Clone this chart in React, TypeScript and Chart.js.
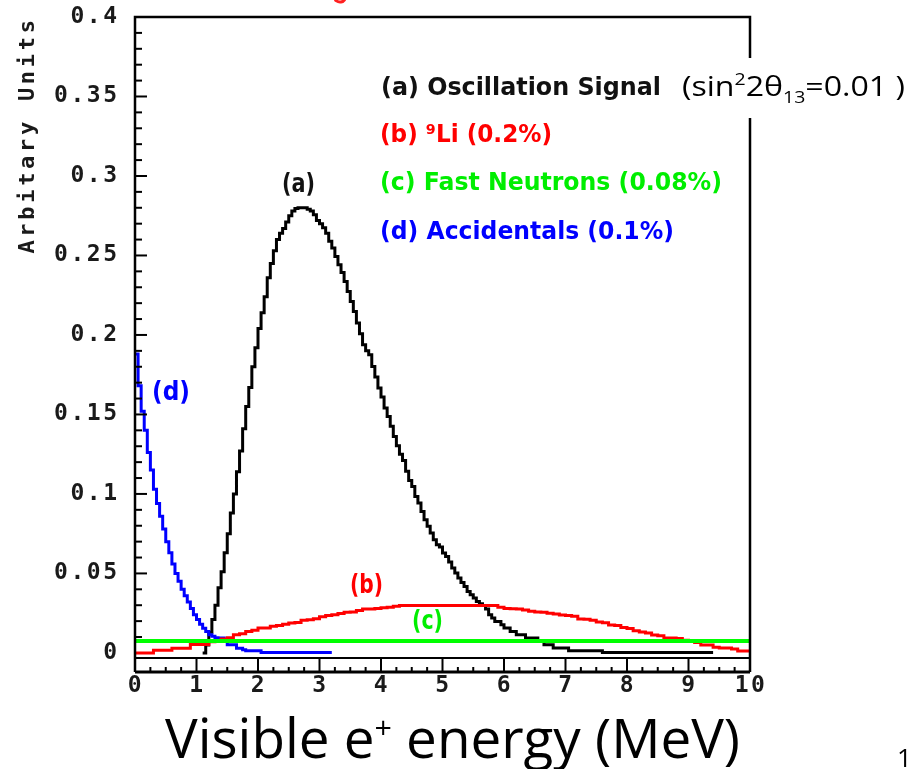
import React, { useEffect, useRef } from 'react';
import { Chart, registerables } from 'chart.js';

Chart.register(...registerables);

// ---- Data (Arbitrary Units vs visible e+ energy, MeV) ----
// (a) Oscillation signal: histogram, 0.05 MeV bins starting at 1.10 MeV
const SIGNAL_START = 1.1;
const SIGNAL_BIN = 0.05;
const SIGNAL_VALUES = [
  0, 0.005, 0.013, 0.021, 0.03, 0.041, 0.051, 0.063, 0.075, 0.088,
  0.1, 0.114, 0.127, 0.141, 0.155, 0.167, 0.18, 0.192, 0.204, 0.214,
  0.224, 0.236, 0.245, 0.253, 0.26, 0.264, 0.267, 0.271, 0.275, 0.278,
  0.2795, 0.28, 0.28, 0.28, 0.279, 0.278, 0.2756, 0.272, 0.27, 0.2675,
  0.264, 0.259, 0.2547, 0.2494, 0.2442, 0.2393, 0.2337, 0.2274, 0.2211, 0.2148,
  0.2075, 0.2008, 0.1938, 0.19, 0.1875, 0.1802, 0.1735, 0.1666, 0.161, 0.154,
  0.1487, 0.1425, 0.1362, 0.1303, 0.125, 0.121, 0.1142, 0.1085, 0.1047, 0.0984,
  0.0943, 0.089, 0.0838, 0.0796, 0.0754, 0.0712, 0.068, 0.0666, 0.0628, 0.0607,
  0.0572, 0.0534, 0.0503, 0.0471, 0.0443, 0.0418, 0.0387, 0.0366, 0.0345, 0.0324,
  0.031, 0.0299, 0.0276, 0.024, 0.0219, 0.0198, 0.0198, 0.0177, 0.0157, 0.0157,
  0.0135, 0.0135, 0.0114, 0.0114, 0.0114, 0.0094, 0.0094, 0.0094, 0.0094, 0.0075,
  0.0075, 0.0052, 0.0052, 0.0052, 0.0031, 0.0031, 0.0031, 0.0031, 0.0031, 0.0014,
  0.0014, 0.0014, 0.0014, 0.0014, 0.0014, 0.0014, 0.0014, 0.0014, 0.0014, 0.0014,
  0.0003, 0.0003, 0.0003, 0.0003, 0.0003, 0.0003, 0.0003, 0.0003, 0.0003, 0.0003,
  0.0003, 0.0003, 0.0003, 0.0003, 0.0003, 0.0003, 0.0003, 0.0003, 0.0003, 0.0003,
  0.0003, 0.0003, 0.0003, 0.0003, 0.0003, 0.0003, 0.0003, 0.0003, 0.0003, 0.0003,
  0.0003, 0.0003, 0.0003, 0.0003, 0.0003, 0.0003,
];

// (b) 9Li: histogram, 0.1 MeV bins from 0 MeV
const LI9_START = 0;
const LI9_BIN = 0.1;
const LI9_VALUES = [
  0, 0, 0, 0.0016, 0.0016, 0.0016, 0.003, 0.003, 0.003, 0.0053,
  0.0053, 0.0053, 0.007, 0.0078, 0.0088, 0.0096, 0.0114, 0.012, 0.0135, 0.0142,
  0.0157, 0.0157, 0.0167, 0.0172, 0.018, 0.0188, 0.0192, 0.0205, 0.0209, 0.0215,
  0.0228, 0.0236, 0.024, 0.0248, 0.0255, 0.0258, 0.0266, 0.0276, 0.0276, 0.028,
  0.0284, 0.0288, 0.0294, 0.0298, 0.0298, 0.0298, 0.0298, 0.0298, 0.0298, 0.0298,
  0.0298, 0.0298, 0.0298, 0.0298, 0.0298, 0.0298, 0.0298, 0.0298, 0.0298, 0.0287,
  0.028, 0.0278, 0.0276, 0.027, 0.0262, 0.0257, 0.0255, 0.025, 0.0244, 0.0238,
  0.0236, 0.023, 0.0213, 0.0211, 0.0205, 0.0194, 0.019, 0.0176, 0.0172, 0.016,
  0.0154, 0.014, 0.0131, 0.0125, 0.0113, 0.0108, 0.0094, 0.0094, 0.009, 0.008,
  0.0074, 0.0066, 0.005, 0.005, 0.0035, 0.0031, 0.0031, 0.0025, 0.0012, 0.0012,
];

// (c) Fast neutrons: flat, one bin over 0-10 MeV
const FASTN_START = 0;
const FASTN_BIN = 10;
const FASTN_VALUES = [0.0075];

// (d) Accidentals: histogram, 0.05 MeV bins from 0 to 3.2 MeV
const ACC_START = 0;
const ACC_BIN = 0.05;
const ACC_VALUES = [
  0.188, 0.168, 0.152, 0.14, 0.126, 0.115, 0.103, 0.094, 0.086, 0.078,
  0.07, 0.063, 0.056, 0.05, 0.045, 0.04, 0.036, 0.032, 0.028, 0.024,
  0.021, 0.018, 0.0155, 0.0135, 0.0115, 0.0105, 0.0096, 0.0094, 0.0094, 0.0075,
  0.0052, 0.0052, 0.0052, 0.003, 0.003, 0.002, 0.0014, 0.0014, 0.0014, 0.0014,
  0.0014, 0.0003, 0.0003, 0.0003, 0.0003, 0.0003, 0.0003, 0.0003, 0.0003, 0.0003,
  0.0003, 0.0003, 0.0003, 0.0003, 0.0003, 0.0003, 0.0003, 0.0003, 0.0003, 0.0003,
  0.0003, 0.0003, 0.0003, 0.0003,
];

const X_TICKS = [0, 1, 2, 3, 4, 5, 6, 7, 8, 9, 10];
const X_TICK_LABELS = ['0', '1', '2', '3', '4', '5', '6', '7', '8', '9', '10'];
const Y_TICKS = [0, 0.05, 0.1, 0.15, 0.2, 0.25, 0.3, 0.35, 0.4];
const Y_TICK_LABELS = ['0', '0.05', '0.1', '0.15', '0.2', '0.25', '0.3', '0.35', '0.4'];
const Y_TITLE = 'Arbitary Units';
const X_TITLE_A = 'Visible e';
const X_TITLE_SUP = '+';
const X_TITLE_B = ' energy (MeV)';
const LEGEND_TEXTS = [
  '(a) Oscillation Signal',
  '(b) \u2079Li (0.2%)',
  '(c) Fast Neutrons (0.08%)',
  '(d) Accidentals (0.1%)',
];
const CURVE_TAGS = ['(a)', '(b)', '(c)', '(d)'];
const COLORS = ['#000000', '#ff0000', '#00ee00', '#0000ff'];

function histPoints(start: number, bin: number, values: number[]) {
  const pts = values.map((v, i) => ({ x: start + i * bin, y: v }));
  pts.push({ x: start + values.length * bin, y: values[values.length - 1] });
  return pts;
}

function drawFit(
  ctx: CanvasRenderingContext2D,
  text: string,
  left: number,
  cy: number,
  width: number,
  font: string,
  color: string
) {
  ctx.save();
  ctx.font = font;
  ctx.fillStyle = color;
  ctx.textAlign = 'left';
  ctx.textBaseline = 'middle';
  const w = ctx.measureText(text).width;
  ctx.translate(left, cy);
  ctx.scale(width / w, 1);
  ctx.fillText(text, 0, 0);
  ctx.restore();
}

const framePlugin = {
  id: 'paFrame',
  afterDatasetsDraw(chart: any) {
    const { ctx, chartArea: a, scales } = chart;
    const xs = scales.x;
    const ys = scales.y;
    const boxBottom = a.bottom + 14;
    ctx.save();
    ctx.strokeStyle = '#000';
    ctx.lineCap = 'butt';

    // frame
    ctx.lineWidth = 2.5;
    ctx.beginPath();
    ctx.moveTo(a.left, boxBottom);
    ctx.lineTo(a.left, a.top);
    ctx.lineTo(a.right, a.top);
    ctx.lineTo(a.right, boxBottom);
    ctx.stroke();
    ctx.lineWidth = 2;
    ctx.beginPath();
    ctx.moveTo(a.left, a.bottom);
    ctx.lineTo(a.right, a.bottom);
    ctx.stroke();
    ctx.lineWidth = 3;
    ctx.beginPath();
    ctx.moveTo(a.left, boxBottom);
    ctx.lineTo(a.right, boxBottom);
    ctx.stroke();

    // x ticks (box below the frame)
    ctx.lineWidth = 2;
    X_TICKS.forEach((t) => {
      const px = xs.getPixelForValue(t);
      ctx.beginPath();
      ctx.moveTo(px, a.bottom);
      ctx.lineTo(px, boxBottom);
      ctx.stroke();
    });
    for (let i = 0; i < X_TICKS.length - 1; i++) {
      const step = (X_TICKS[i + 1] - X_TICKS[i]) / 4;
      for (let q = 1; q < 4; q++) {
        const px = xs.getPixelForValue(X_TICKS[i] + q * step);
        ctx.beginPath();
        ctx.moveTo(px, boxBottom);
        ctx.lineTo(px, boxBottom - 5);
        ctx.stroke();
      }
    }

    // y ticks pointing inward
    for (let i = 0; i < Y_TICKS.length; i++) {
      const py = ys.getPixelForValue(Y_TICKS[i]);
      if (i > 0 && i < Y_TICKS.length - 1) {
        ctx.beginPath();
        ctx.moveTo(a.left, py);
        ctx.lineTo(a.left + 12, py);
        ctx.stroke();
      }
      if (i < Y_TICKS.length - 1) {
        const step = (Y_TICKS[i + 1] - Y_TICKS[i]) / 5;
        for (let q = 1; q < 5; q++) {
          const pm = ys.getPixelForValue(Y_TICKS[i] + q * step);
          ctx.beginPath();
          ctx.moveTo(a.left, pm);
          ctx.lineTo(a.left + 7, pm);
          ctx.stroke();
        }
      }
    }

    // tick labels
    ctx.fillStyle = '#1a1a1a';
    ctx.font = 'bold 23px "DejaVu Sans Mono"';
    (ctx as any).letterSpacing = '2.5px';
    ctx.textBaseline = 'middle';
    ctx.textAlign = 'right';
    Y_TICKS.forEach((t, i) => {
      ctx.fillText(Y_TICK_LABELS[i], 117 + 2.5, ys.getPixelForValue(t));
    });
    ctx.textAlign = 'center';
    X_TICKS.forEach((t, i) => {
      ctx.fillText(X_TICK_LABELS[i], xs.getPixelForValue(t) + 1, 686);
    });

    // y title
    ctx.save();
    ctx.font = 'bold 22px "DejaVu Sans Mono"';
    (ctx as any).letterSpacing = '3.7px';
    ctx.translate(28, 137);
    ctx.rotate(-Math.PI / 2);
    ctx.textAlign = 'center';
    ctx.fillText(Y_TITLE, 2, 0);
    ctx.restore();
    (ctx as any).letterSpacing = '0px';
    ctx.restore();

    // legend
    const lf = 'bold 25px "DejaVu Sans"';
    drawFit(ctx, LEGEND_TEXTS[0], 381, 88, 280, lf, '#111111');
    drawFit(ctx, LEGEND_TEXTS[1], 380, 135, 172, lf, COLORS[1]);
    drawFit(ctx, LEGEND_TEXTS[2], 380, 183, 342, lf, COLORS[2]);
    drawFit(ctx, LEGEND_TEXTS[3], 380, 232, 294, lf, COLORS[3]);

    // curve tags
    const tf = 'bold 26px "DejaVu Sans"';
    drawFit(ctx, CURVE_TAGS[0], 282, 185, 33, tf, '#111111');
    drawFit(ctx, CURVE_TAGS[1], 350, 586, 33, tf, COLORS[1]);
    drawFit(ctx, CURVE_TAGS[2], 412, 622, 31, tf, COLORS[2]);
    drawFit(ctx, CURVE_TAGS[3], 152, 393, 38, tf, COLORS[3]);
  },
  afterDraw(chart: any) {
    const ctx: CanvasRenderingContext2D = chart.ctx;
    ctx.save();
    // white box with the mixing-angle note
    ctx.fillStyle = '#ffffff';
    ctx.fillRect(663, 58, 247, 60);
    const big = '28px "Open Sans"';
    const small = '17px "Open Sans"';
    const parts: [string, string, number][] = [
      ['(sin', big, 96],
      ['2', small, 85],
      ['2\u03b8', big, 96],
      ['13', small, 103],
      ['=0.01 )', big, 96],
    ];
    let total = 0;
    const widths = parts.map(([t, f]) => {
      ctx.font = f;
      const w = ctx.measureText(t).width;
      total += w;
      return w;
    });
    const sx = 223 / total;
    ctx.fillStyle = '#000';
    ctx.textAlign = 'left';
    ctx.textBaseline = 'alphabetic';
    ctx.translate(682, 0);
    ctx.scale(sx, 1);
    let cx = 0;
    parts.forEach(([t, f, by], i) => {
      ctx.font = f;
      ctx.fillText(t, cx, by);
      cx += widths[i];
    });
    ctx.restore();

    // x-axis title
    ctx.save();
    const tb = '54px "Open Sans"';
    const ts = '30px "Open Sans"';
    ctx.font = tb;
    const wA = ctx.measureText(X_TITLE_A).width;
    const wB = ctx.measureText(X_TITLE_B).width;
    ctx.font = ts;
    const wS = ctx.measureText(X_TITLE_SUP).width;
    const s2 = 575 / (wA + wS + wB);
    ctx.fillStyle = '#000';
    ctx.textBaseline = 'alphabetic';
    ctx.translate(165, 0);
    ctx.scale(s2, 1);
    ctx.font = tb;
    ctx.fillText(X_TITLE_A, 0, 758);
    ctx.font = ts;
    ctx.fillText(X_TITLE_SUP, wA, 738);
    ctx.font = tb;
    ctx.fillText(X_TITLE_B, wA + wS, 758);
    ctx.restore();

    // slide page number
    ctx.save();
    ctx.fillStyle = '#000';
    ctx.font = '26px "Open Sans"';
    ctx.textBaseline = 'alphabetic';
    ctx.fillText('1', 897, 767);
    // cut-off red heading fragment at the very top
    ctx.strokeStyle = '#ff2020';
    ctx.lineWidth = 3;
    ctx.beginPath();
    ctx.arc(340, -4, 6, 0.2 * Math.PI, 0.8 * Math.PI);
    ctx.stroke();
    ctx.restore();
  },
};

export default function App() {
  const ref = useRef<HTMLCanvasElement | null>(null);

  useEffect(() => {
    if (!ref.current) return;
    const common = { pointRadius: 0, stepped: 'before' as const, fill: false, tension: 0 };
    const chart = new Chart(ref.current, {
      type: 'line',
      data: {
        datasets: [
          {
            label: 'Fast Neutrons',
            data: histPoints(FASTN_START, FASTN_BIN, FASTN_VALUES),
            borderColor: '#00ff00',
            borderWidth: 4,
            order: 0,
            ...common,
          },
          {
            label: '9Li',
            data: histPoints(LI9_START, LI9_BIN, LI9_VALUES),
            borderColor: '#ff0000',
            borderWidth: 3,
            order: 1,
            ...common,
          },
          {
            label: 'Accidentals',
            data: histPoints(ACC_START, ACC_BIN, ACC_VALUES),
            borderColor: '#0000ff',
            borderWidth: 3,
            order: 2,
            ...common,
          },
          {
            label: 'Oscillation Signal',
            data: histPoints(SIGNAL_START, SIGNAL_BIN, SIGNAL_VALUES),
            borderColor: '#000000',
            borderWidth: 3,
            order: 3,
            ...common,
          },
        ],
      },
      options: {
        responsive: false,
        animation: false,
        layout: { padding: { left: 135, right: 160, top: 17, bottom: 111 } },
        scales: {
          x: { type: 'linear', min: 0, max: 10, display: false },
          y: { type: 'linear', min: -0.0032, max: 0.4, display: false },
        },
        plugins: {
          legend: { display: false },
          tooltip: { enabled: false },
          title: { display: false },
        },
      },
      plugins: [framePlugin],
    } as any);
    return () => chart.destroy();
  }, []);

  return (
    <div
      style={{
        position: 'absolute',
        left: 0,
        top: 0,
        width: 910,
        height: 769,
        background: '#ffffff',
        overflow: 'hidden',
      }}
    >
      <canvas ref={ref} width={910} height={769} style={{ display: 'block' }} />
    </div>
  );
}
